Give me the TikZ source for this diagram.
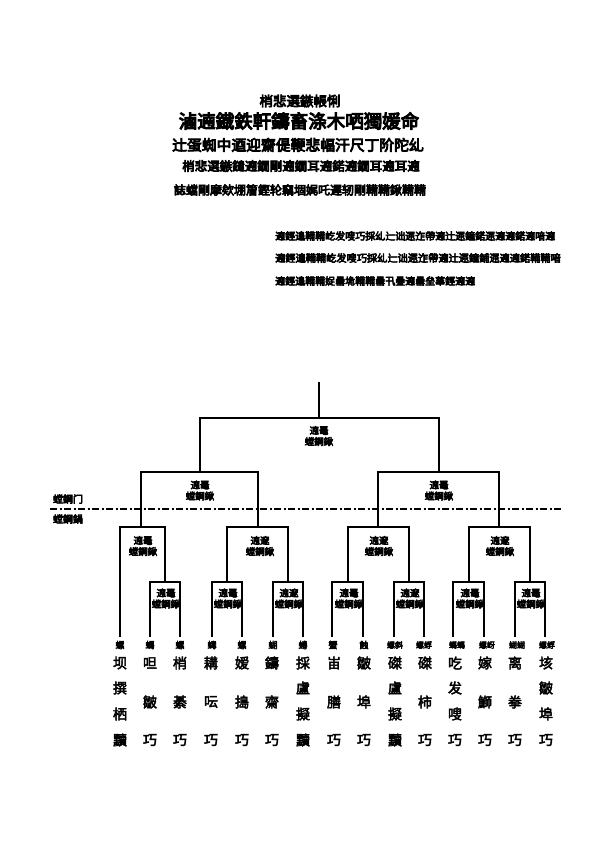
\documentclass[tikz,border=0pt]{standalone}
\usepackage{fontspec}
\newfontfamily\cjk{Noto Sans CJK SC}[FakeBold=3]
\newfontfamily\cjkh{Noto Sans CJK SC}[FakeBold=5.5]
\begin{document}
\begin{tikzpicture}[x=1pt,y=-1pt,
  br/.style={line width=2pt},
  dashline/.style={line width=1.6pt,dash pattern=on 7pt off 2.5pt on 2pt off 2.5pt},
  lbl/.style={font=\cjkh\fontsize{9.5}{11}\selectfont,align=center,inner sep=0pt},
  side/.style={font=\cjkh\fontsize{10}{11}\selectfont,inner sep=0pt},
  sml/.style={font=\cjkh\fontsize{9}{9}\selectfont,inner sep=0pt},
  smll/.style={font=\cjkh\fontsize{8}{9}\selectfont,inner sep=0pt},
  leaf/.style={font=\cjk\fontsize{14}{15}\selectfont,inner sep=0pt},
  ttl/.style={font=\cjkh,inner sep=0pt}]
\useasboundingbox (0,0) rectangle (595,842);
% titles
\node[ttl,font=\cjkh\fontsize{13.5}{14}\selectfont] (t1) at (300,101) {梢悲選鏃帳悧};
\node[ttl,font=\cjkh\fontsize{18.5}{20}\selectfont] (t2) at (299,121) {滷遖鐡鉄軒鑄畜涤木哂獨媛命};
\node[ttl,font=\cjkh\fontsize{14.8}{16}\selectfont] (t3) at (298,145) {辻蛋蜘中逎迎齋偍鞭悲幅汗尺丁阶陀乣};
\node[ttl,font=\cjkh\fontsize{12.5}{14}\selectfont] (t4) at (301,166) {梢悲選鏃鑓遖鐗剛遖鐗耳遖鍩遖鐗耳遖耳遖};
\node[ttl,font=\cjkh\fontsize{12}{13}\selectfont] (t5) at (300,190) {誌蟷剛摩欸堋篃鏗轮竊堌娓吒遲轫剛鞴鞴鍬鞴鞴};
\node[ttl,font=\cjkh\fontsize{10}{11}\selectfont,anchor=west] (r1) at (275,236) {遖鋞遑鞴鞴屹发嗖巧採乣辷诎遝迮帶遖辻遝鐘鍩遝遖遖鍩遖喑遖};
\node[ttl,font=\cjkh\fontsize{10.2}{11}\selectfont,anchor=west] (r2) at (275,258) {遖鋞遑鞴鞴屹发嗖巧採乣辷诎遝迮帶遖辻遝鐘鋪遝遖遖鍩鞴鞴喑};
\node[ttl,font=\cjkh\fontsize{10}{11}\selectfont,anchor=west] (r3) at (275,281) {遖鋞遑鞴鞴娖罍垝鞴鞴罍卂曡遖罍垒蕐鋞遖遖};
% coordinates
\coordinate (rt) at (319,382);
\coordinate (r) at (319,418);
\coordinate (j2L) at (200,472);
\coordinate (j2R) at (439,472);
\coordinate (j3a) at (141,527);
\coordinate (j3b) at (258,527);
\coordinate (j3c) at (378,527);
\coordinate (j3d) at (499,527);
\coordinate (j4a) at (165,582);
\coordinate (j4b) at (227,582);
\coordinate (j4c) at (288,582);
\coordinate (j4d) at (347.5,582);
\coordinate (j4e) at (409,582);
\coordinate (j4f) at (468.5,582);
\coordinate (j4g) at (530,582);
\foreach \i/\x in {1/120,2/150,3/180,4/212,5/242,6/273,7/303,8/332,9/363,10/394,11/424,12/453,13/484,14/515,15/545}
  \coordinate (f\i) at (\x,637);
% bracket
\draw[br] (rt) -- (r);
\draw[br] (j2L) |- (r) -| (j2R);
\draw[br] (j3a) |- (j2L) -| (j3b);
\draw[br] (j3c) |- (j2R) -| (j3d);
\draw[br] (f1) |- (j3a) -| (j4a);
\draw[br] (j4b) |- (j3b) -| (j4c);
\draw[br] (j4d) |- (j3c) -| (j4e);
\draw[br] (j4f) |- (j3d) -| (j4g);
\draw[br] (f2) |- (j4a) -| (f3);
\draw[br] (f4) |- (j4b) -| (f5);
\draw[br] (f6) |- (j4c) -| (f7);
\draw[br] (f8) |- (j4d) -| (f9);
\draw[br] (f10) |- (j4e) -| (f11);
\draw[br] (f12) |- (j4f) -| (f13);
\draw[br] (f14) |- (j4g) -| (f15);
% bracket labels
\node[lbl] (l0) at (319,436) {遖鼉\\螳鋼鍬};
\node[lbl] (l2a) at (200,490.5) {遖鼉\\螳鋼鍬};
\node[lbl] (l2b) at (439,490.5) {遖鼉\\螳鋼鍬};
\node[lbl] (l3a) at (143,546) {遖鼉\\螳鋼鍬};
\node[lbl] (l3b) at (260,546) {遖邃\\螳鋼鍬};
\node[lbl] (l3c) at (379,546) {遖邃\\螳鋼鍬};
\node[lbl] (l3d) at (500,546) {遖邃\\螳鋼鍬};
\node[lbl] (l4a) at (166,598.5) {遖鼉\\螳鋼鍬};
\node[lbl] (l4b) at (228,598.5) {遖鼉\\螳鋼鍬};
\node[lbl] (l4c) at (289,598.5) {遖邃\\螳鋼鍬};
\node[lbl] (l4d) at (349,598.5) {遖鼉\\螳鋼鍬};
\node[lbl] (l4e) at (410,598.5) {遖邃\\螳鋼鍬};
\node[lbl] (l4f) at (470,598.5) {遖鼉\\螳鋼鍬};
\node[lbl] (l4g) at (531,598.5) {遖鼉\\螳鋼鍬};
% dashed line
\coordinate (dl) at (50,509);
\coordinate (dr) at (561,509);
\draw[dashline] (dl) -- (dr);
\node[side] (s1) at (68,499) {螳鋼门};
\node[side] (s2) at (68,519) {螳鋼鍋};
% leaf small labels
\foreach \i/\x/\s in {1/120/螺,2/150/螞,3/180/螺,4/212/蝳,5/242/螺,6/273/蝴,7/303/蜷,8/333/蟹,9/364/蝕}
  \node[sml] (s\i) at (\x,645) {\s};
\foreach \i/\x/\s in {10/395/螺斜,11/424/螺蜉,12/457/螞螞,13/487/螺岈,14/517/蝴蝴,15/547/螺蜉}
  \node[smll] (s\i) at (\x,645) {\s};
% leaf columns, four rows
\foreach \i/\x/\a/\b/\c/\d in {1/120/坝/撰/栖/黷,7/303/採/盧/擬/黷,10/395/磔/盧/擬/黷,12/455/吃/发/嗖/巧,15/546/垓/皺/埠/巧}{
  \node[leaf] (c\i a) at (\x,663) {\a};
  \node[leaf] (c\i b) at (\x,688) {\b};
  \node[leaf] (c\i c) at (\x,714) {\c};
  \node[leaf] (c\i d) at (\x,740) {\d};
}
% leaf columns, three rows
\foreach \i/\x/\a/\b/\c in {2/150/呾/皺/巧,3/180/梢/綦/巧,4/211/耩/呍/巧,5/242/嫒/搗/巧,6/272/鑄/齋/巧,8/334/峀/膳/巧,9/364/皺/埠/巧,11/425/磔/柿/巧,13/485/嫁/鰤/巧,14/515/离/拳/巧}{
  \node[leaf] (c\i a) at (\x,663) {\a};
  \node[leaf] (c\i b) at (\x,702) {\b};
  \node[leaf] (c\i c) at (\x,740) {\c};
}
\end{tikzpicture}
\end{document}
